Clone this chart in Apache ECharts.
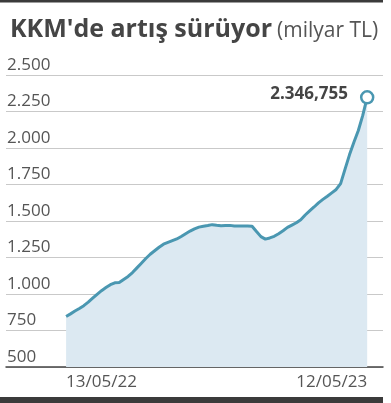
<!DOCTYPE html>
<html><head><meta charset="utf-8">
<script src="https://cdn.jsdelivr.net/npm/echarts@6/dist/echarts.min.js"></script>
<style>html,body{margin:0;padding:0;background:#fff}#c{width:391px;height:403px}</style>
</head><body><div id="c"></div>
<script>
const titleMain = "KKM'de artış sürüyor";
const titleUnit = "(milyar TL)";
const dates = [
 '2022-03-18','2022-03-25','2022-04-01','2022-04-08','2022-04-15','2022-04-22','2022-04-29','2022-05-06',
 '2022-05-13','2022-05-20','2022-05-27','2022-06-03','2022-06-10','2022-06-17','2022-06-24','2022-07-01',
 '2022-07-08','2022-07-15','2022-07-22','2022-07-29','2022-08-05','2022-08-12','2022-08-19','2022-08-26',
 '2022-09-02','2022-09-09','2022-09-16','2022-09-23','2022-09-30','2022-10-07','2022-10-14','2022-10-21',
 '2022-10-28','2022-11-04','2022-11-11','2022-11-18','2022-11-25','2022-12-02','2022-12-09','2022-12-16',
 '2022-12-23','2022-12-30','2023-01-06','2023-01-13','2023-01-20','2023-01-27','2023-02-03','2023-02-10',
 '2023-02-17','2023-02-24','2023-03-03','2023-03-10','2023-03-17','2023-03-24','2023-03-31','2023-04-07',
 '2023-04-14','2023-04-21','2023-04-28','2023-05-05','2023-05-12','2023-05-19','2023-05-26','2023-06-02',
 '2023-06-09','2023-06-16','2023-06-23','2023-06-30','2023-07-07'
];
const values = [
 846,864,883,901,920,944,971,998,
 1023,1044,1064,1077,1079,1100,1120,1147,
 1179,1211,1243,1272,1296,1320,1341,1353,
 1365,1377,1394,1413,1431,1446,1458,1464,
 1469,1475,1471,1468,1469,1470,1466,1466,
 1466,1466,1464,1428,1393,1376,1384,1395,
 1413,1433,1456,1472,1488,1509,1541,1569,
 1596,1624,1648,1670,1693,1716,1756,1855,
 1953,2040,2120,2223,2346.755
];
const xTickDates = ['2022-05-13','2023-05-12'];
const yTicks = [500,750,1000,1250,1500,1750,2000,2250,2500];

function trNum(v, dec){
  const neg = v < 0; v = Math.abs(v);
  let s = dec ? v.toFixed(dec) : String(Math.round(v));
  let [ip, fp] = s.split('.');
  ip = ip.replace(/\B(?=(\d{3})+(?!\d))/g, '.');
  return (neg?'-':'') + ip + (fp ? ',' + fp : '');
}
function fmtDate(v){
  const d = new Date(v);
  const p = n => String(n).padStart(2,'0');
  return p(d.getUTCDate()) + '/' + p(d.getUTCMonth()+1) + '/' + String(d.getUTCFullYear()).slice(2);
}
const DAY = 86400000;
const toTs = s => { const [y,m,d] = s.split('-').map(Number); return Date.UTC(y, m-1, d); };
const tickTs = xTickDates.map(toTs);

const lineColor = '#4a97b1';
const lastIdx = values.length - 1;
const seriesData = dates.map((d,i) => {
  const item = { value: [toTs(d), values[i]] };
  if (i === lastIdx) {
    item.symbol = 'circle';
    item.symbolSize = 12;
    item.itemStyle = { color: '#fff', borderColor: lineColor, borderWidth: 2.5 };
    item.label = {
      show: true, position: 'left', distance: 12, offset: [0, -3],
      formatter: () => trNum(values[i], 3),
      fontFamily: 'Open Sans', fontWeight: 'bold', fontSize: 17, color: '#444'
    };
  }
  return item;
});

const chart = echarts.init(document.getElementById('c'), null, {renderer:'canvas'});
chart.setOption({
  animation: false,
  backgroundColor: '#fff',
  title: {
    left: 5, top: 12,
    text: '{b|' + titleMain + '} {n|' + titleUnit + '}',
    textStyle: {
      rich: {
        b: { fontFamily: 'Open Sans', fontWeight: 'bold', fontSize: 25, color: '#454545', verticalAlign: 'bottom' },
        n: { fontFamily: 'Open Sans', fontWeight: 'normal', fontSize: 21, color: '#555', verticalAlign: 'bottom' }
      }
    }
  },
  graphic: [
    { type: 'rect', left: 0, top: 0, shape: { width: 383, height: 2.5 }, style: { fill: '#3b3b3b' } },
    { type: 'rect', left: 0, top: 397, shape: { width: 383, height: 6 }, style: { fill: '#3b3b3b' } }
  ],
  grid: { left: 6, right: 8, top: 75, bottom: 36, containLabel: false },
  xAxis: {
    type: 'value',
    min: toTs('2021-12-13'), max: toTs('2023-08-01'), interval: DAY,
    axisLine: { show: true, onZero: false, lineStyle: { color: '#444', width: 1.5 } },
    axisTick: { show: false },
    splitLine: { show: false },
    axisLabel: {
      formatter: v => {
        const hit = tickTs.find(t => Math.abs(t - v) < DAY / 2);
        return hit !== undefined ? fmtDate(hit) : '';
      },
      fontFamily: 'Open Sans', fontSize: 17, color: '#555', margin: 7,
      hideOverlap: false, showMinLabel: false, showMaxLabel: false
    }
  },
  yAxis: {
    type: 'value', min: 500, max: 2500, interval: 250,
    axisLine: { show: false }, axisTick: { show: false },
    splitLine: { show: true, lineStyle: { color: '#c9c9c9', width: 1 } },
    axisLabel: {
      inside: true, margin: 1, align: 'left', verticalAlign: 'bottom',
      formatter: v => trNum(v), lineHeight: 20,
      fontFamily: 'Open Sans', fontSize: 17, color: '#555'
    }
  },
  series: [{
    type: 'line',
    data: seriesData,
    showSymbol: true,
    symbol: 'none',
    lineStyle: { color: lineColor, width: 3 },
    areaStyle: { color: '#dce9f2', opacity: 1 },
    z: 3
  }]
});
</script></body></html>
